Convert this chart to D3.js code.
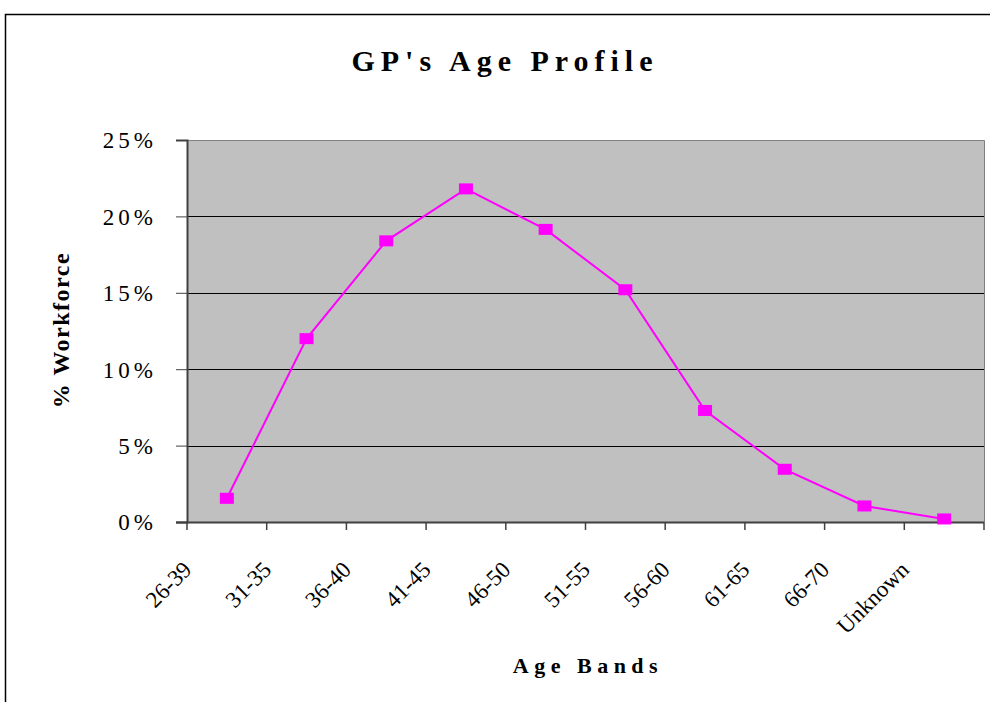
<!DOCTYPE html>
<html><head><meta charset="utf-8">
<script src="https://cdn.jsdelivr.net/npm/d3@7/dist/d3.min.js"></script>
<style>body{margin:0;background:#fff;}svg{display:block;}</style>
</head><body>
<script>
const categories = ["26-39","31-35","36-40","41-45","46-50","51-55","56-60","61-65","66-70","Unknown"];
const values = [1.55, 12.0, 18.4, 21.8, 19.15, 15.2, 7.3, 3.45, 1.05, 0.2];
const yTicks = [0, 5, 10, 15, 20, 25];
const titleText = "GP's Age Profile";
const xTitle = "Age Bands";
const yTitle = "% Workforce";

const W = 990, H = 702;
const svg = d3.select("body").append("svg").attr("width", W).attr("height", H);
const serif = "'Liberation Serif','Times New Roman',serif";

// outer border
svg.append("path").attr("d", `M5.5,${H} L5.5,14.5 L${W},14.5`).attr("fill","none").attr("stroke","#000").attr("stroke-width",1.5);

const L = 187, R = 984, T = 140, B = 522;
const x = d3.scaleBand().domain(categories).range([L, R]).padding(0);
const y = d3.scaleLinear().domain([0, 25]).range([B, T]);

svg.append("rect").attr("x", L).attr("y", T).attr("width", R - L).attr("height", B - T).attr("fill", "#c0c0c0");
svg.append("path").attr("d", `M${L},${T+0.5} L${R+0.5},${T+0.5} L${R+0.5},${B}`).attr("fill","none").attr("stroke","#808080").attr("stroke-width",1);

// gridlines
svg.append("g").selectAll("line").data(yTicks.filter(d => d > 0 && d < 25)).join("line")
  .attr("x1", L).attr("x2", R).attr("y1", d => Math.round(y(d)) + 0.5).attr("y2", d => Math.round(y(d)) + 0.5)
  .attr("stroke", "#000").attr("stroke-width", 1);

// y axis
const yAxis = d3.axisLeft(y).tickValues(yTicks).tickSize(11).tickFormat(d => d + "%");
const gy = svg.append("g").attr("transform", `translate(${L},0)`).call(yAxis);
gy.select(".domain").attr("stroke", "#404040").attr("stroke-width", 2);
gy.selectAll(".tick line").attr("stroke", "#404040");
gy.selectAll("text").attr("x", -30).attr("dy", "0.34em").attr("font-family", serif).attr("font-size", 23).attr("fill", "#000")
  .attr("letter-spacing", "4px");

// x axis: ticks at band boundaries
const bounds = categories.map(c => x(c)).concat([R]);
const gx = svg.append("g");
gx.append("line").attr("x1", L - 11).attr("x2", R).attr("y1", B + 0.5).attr("y2", B + 0.5).attr("stroke", "#404040").attr("stroke-width", 2);
gx.selectAll("line.t").data(bounds).join("line").attr("class","t")
  .attr("x1", d => d).attr("x2", d => d).attr("y1", B).attr("y2", B + 8).attr("stroke", "#404040").attr("stroke-width", 1.5);
gx.selectAll("text").data(categories).join("text")
  .attr("transform", d => `translate(${x(d) + 6},${B + 49}) rotate(-45)`)
  .attr("text-anchor", "end").attr("font-family", serif).attr("font-size", 23).attr("fill", "#000")
  .text(d => d);

// line
const line = d3.line().x((d, i) => x(categories[i]) + x.bandwidth() / 2).y(d => y(d));
svg.append("path").datum(values).attr("d", line).attr("fill", "none").attr("stroke", "#ff00ff").attr("stroke-width", 2);
svg.append("g").selectAll("rect").data(values).join("rect")
  .attr("x", (d, i) => x(categories[i]) + x.bandwidth() / 2 - 7)
  .attr("y", d => y(d) - 5.5).attr("width", 14).attr("height", 11).attr("fill", "#ff00ff");

// titles
svg.append("text").attr("x", 505).attr("y", 71).attr("text-anchor", "middle").attr("font-family", serif)
  .attr("font-weight", "bold").attr("font-size", 30).attr("letter-spacing", "6px").text(titleText);
svg.append("text").attr("x", 588).attr("y", 673).attr("text-anchor", "middle").attr("font-family", serif)
  .attr("font-weight", "bold").attr("font-size", 22).attr("letter-spacing", "5.5px").text(xTitle);
svg.append("text").attr("transform", "translate(69,330) rotate(-90)").attr("text-anchor", "middle").attr("font-family", serif)
  .attr("font-weight", "bold").attr("font-size", 24).attr("letter-spacing", "1.5px").text(yTitle);
</script>
</body></html>
